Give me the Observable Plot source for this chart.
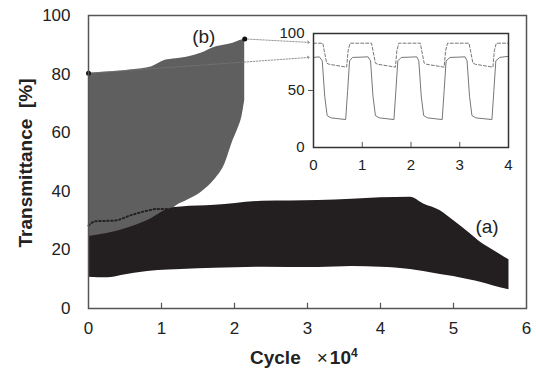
<!DOCTYPE html>
<html><head><meta charset="utf-8">
<script src="https://cdn.jsdelivr.net/npm/d3@7"></script>
<script src="https://cdn.jsdelivr.net/npm/@observablehq/plot@0.6"></script>
<style>
body{margin:0;background:#fff}
#wrap{position:relative;width:536px;height:371px;font-family:"Liberation Sans",Arial,sans-serif}
#inset{position:absolute;left:273px;top:23px}
</style>
</head><body><div id="wrap"><div id="main"></div><div id="inset"></div></div>
<script>
// ---- main chart data (x in units of 10^4 cycles, y in %) ----
const grayX     = [0, 0.3, 0.6, 0.86, 1.04, 1.2, 1.36, 1.55, 1.73, 1.87, 1.98, 2.05, 2.1, 2.14];
const grayUpper = [80.3, 80.8, 81.5, 82.4, 84.6, 85.2, 85.8, 87.2, 89.2, 89.9, 90.5, 91.2, 91.6, 92];
const grayLower = [21, 23, 26, 29, 31.5, 35, 37, 39.8, 44, 49.4, 57.3, 61.5, 65.3, 71];

const blackX     = [0, 0.27, 0.45, 0.81, 1.1, 1.27, 1.73, 2.38, 3.15, 3.61, 4.0, 4.41, 4.59, 4.82, 5.0, 5.23, 5.37, 5.55, 5.76];
const blackUpper = [24.6, 25.7, 26.8, 30, 34, 34.6, 35.2, 36.6, 36.9, 37.3, 37.8, 38, 35.7, 33.4, 30, 25.5, 22.6, 19.8, 16.6];
const blackLower = [10.7, 10.5, 11.3, 12.6, 13.1, 13.3, 13.7, 14.1, 14, 14.3, 14.1, 13.3, 12.6, 11.6, 10.9, 9.7, 9.0, 7.7, 6.4];

const dottedX = [0, 0.1, 0.35, 0.6, 0.81, 0.95, 1.08];
const dottedY = [28.3, 29.8, 30, 32, 33.4, 34, 34];

const markerX = [0, 2.14];
const markerY = [80.3, 92];

const linkX1 = [0, 2.14];
const linkY1 = [80.3, 92];
const linkX2 = [3.03, 3.03];
const linkY2 = [85.7, 90.8];

const labelText = ["(a)", "(b)"];
const labelX = [5.46, 1.58];
const labelY = [27.8, 92.7];

const xTicks = [0, 1, 2, 3, 4, 5, 6];
const yTicks = [0, 20, 40, 60, 80, 100];
const innerTicks = [1, 2, 3, 4, 5];

// ---- inset data ----
const solidX = [0, 0.12, 0.18, 0.23, 0.28, 0.36, 0.66, 0.70, 0.74, 0.80, 1.12, 1.17, 1.22, 1.27, 1.35, 1.65, 1.69, 1.73, 1.80, 2.12, 2.16, 2.21, 2.26, 2.34, 2.64, 2.68, 2.72, 2.80, 3.11, 3.15, 3.20, 3.25, 3.33, 3.66, 3.70, 3.74, 3.82, 4.0];
const solidY = [79, 79.5, 76, 45, 28, 26, 24.5, 50, 76, 79, 79.5, 76, 45, 28, 26, 24.5, 50, 76, 79, 79.5, 76, 45, 28, 26, 24.5, 50, 76, 79, 79.5, 76, 45, 28, 26, 24.5, 50, 76, 79, 80];
const dashX = [0, 0.19, 0.22, 0.27, 0.32, 0.68, 0.71, 0.75, 1.19, 1.22, 1.27, 1.32, 1.68, 1.71, 1.75, 2.19, 2.22, 2.27, 2.32, 2.68, 2.71, 2.75, 3.19, 3.22, 3.27, 3.32, 3.68, 3.71, 3.75, 4.0];
const dashY = [91.5, 91.5, 85, 74, 73, 70.5, 85, 91.5, 91.5, 85, 74, 73, 70.5, 85, 91.5, 91.5, 85, 74, 73, 70.5, 85, 91.5, 91.5, 85, 74, 73, 70.5, 85, 91.5, 91.5];
const insetXTicks = [0, 1, 2, 3, 4];
const insetYTicks = [0, 50, 100];
const insetYMark = [50];
const insetInner = [1, 2, 3];

// ---- tables ----
const grayRows = grayX.map((x, i) => ({x, lo: grayLower[i], hi: grayUpper[i]}));
const blackRows = blackX.map((x, i) => ({x, lo: blackLower[i], hi: blackUpper[i]}));
const dotted = dottedX.map((x, i) => ({x, y: dottedY[i]}));
const markers = markerX.map((x, i) => ({x, y: markerY[i]}));
const links = linkX1.map((x1, i) => ({x1, y1: linkY1[i], x2: linkX2[i], y2: linkY2[i]}));
const labels = labelText.map((t, i) => ({t, x: labelX[i], y: labelY[i]}));
const solid = solidX.map((x, i) => ({x, y: solidY[i]}));
const dash = dashX.map((x, i) => ({x, y: dashY[i]}));

const font = "Liberation Sans, Arial, sans-serif";

const main = Plot.plot({
  width: 536, height: 371,
  marginLeft: 88, marginRight: 10, marginTop: 15, marginBottom: 63,
  style: {fontFamily: font, fontSize: "17px", background: "transparent", color: "#222"},
  x: {domain: [0, 6]},
  y: {domain: [0, 100]},
  marks: [
    Plot.areaY(grayRows, {x: "x", y1: "lo", y2: "hi", fill: "#5f5f5f", curve: "monotone-x"}),
    Plot.line(dotted, {x: "x", y: "y", stroke: "#222", strokeWidth: 2, strokeDasharray: "1.5,2.5", curve: "monotone-x"}),
    Plot.areaY(blackRows, {x: "x", y1: "lo", y2: "hi", fill: "#231f20", curve: "monotone-x"}),
    Plot.arrow(links, {x1: "x1", y1: "y1", x2: "x2", y2: "y2", stroke: "#777", strokeWidth: 0.8, strokeDasharray: "1.5,1.5", headLength: 5}),
    Plot.dot(markers, {x: "x", y: "y", r: 2.5, fill: "#111"}),
    Plot.text(labels, {x: "x", y: "y", text: "t", fontSize: 19, fill: "#222"}),
    Plot.ruleX(innerTicks, {y1: 0, y2: 1.8, stroke: "#555", strokeWidth: 1.2}),
    Plot.frame({stroke: "#555", strokeWidth: 1.5}),
    Plot.axisY({ticks: yTicks, tickSize: 0, tickPadding: 18, fontSize: 17, label: null, tickFormat: "d"}),
    Plot.axisX({ticks: xTicks, tickSize: 0, tickPadding: 13, fontSize: 17, label: null, tickFormat: "d"})
  ]
});
document.getElementById("main").appendChild(main);

const svg = d3.select(main);
const xt = svg.append("text").attr("x", 250).attr("y", 364).attr("text-anchor", "start")
  .attr("font-family", font).attr("font-size", 19).attr("fill", "#222");
xt.append("tspan").attr("font-weight", "bold").text("Cycle");
xt.append("tspan").attr("dx", 16).text("×");
xt.append("tspan").attr("font-weight", "bold").attr("dx", 2).text("10");
xt.append("tspan").attr("font-weight", "bold").attr("font-size", 12).attr("dy", -7).text("4");

svg.append("text")
  .attr("transform", "translate(32,163) rotate(-90)")
  .attr("text-anchor", "middle")
  .attr("font-family", font).attr("font-size", 19).attr("font-weight", "bold").attr("fill", "#222")
  .attr("xml:space", "preserve")
  .text("Transmittance  [%]");

const inset = Plot.plot({
  width: 245, height: 154,
  marginLeft: 40, marginRight: 10, marginTop: 10, marginBottom: 30,
  style: {fontFamily: font, fontSize: "15px", background: "transparent", color: "#222"},
  x: {domain: [0, 4]},
  y: {domain: [0, 100]},
  marks: [
    Plot.line(dash, {x: "x", y: "y", stroke: "#777", strokeWidth: 1, strokeDasharray: "3,2"}),
    Plot.line(solid, {x: "x", y: "y", stroke: "#777", strokeWidth: 1}),
    Plot.ruleX(insetInner, {y1: 0, y2: 4.5, stroke: "#555"}),
    Plot.frame({stroke: "#333", strokeWidth: 1.5}),
    Plot.axisY({ticks: insetYMark, tickSize: 5, stroke: "#555", tickFormat: () => "", label: null}),
    Plot.axisY({ticks: insetYTicks, tickSize: 0, tickPadding: 9, fontSize: 15, label: null, tickFormat: "d"}),
    Plot.axisX({ticks: insetXTicks, tickSize: 0, tickPadding: 12, fontSize: 15, label: null, tickFormat: "d"})
  ]
});
document.getElementById("inset").appendChild(inset);
</script>
</body></html>
